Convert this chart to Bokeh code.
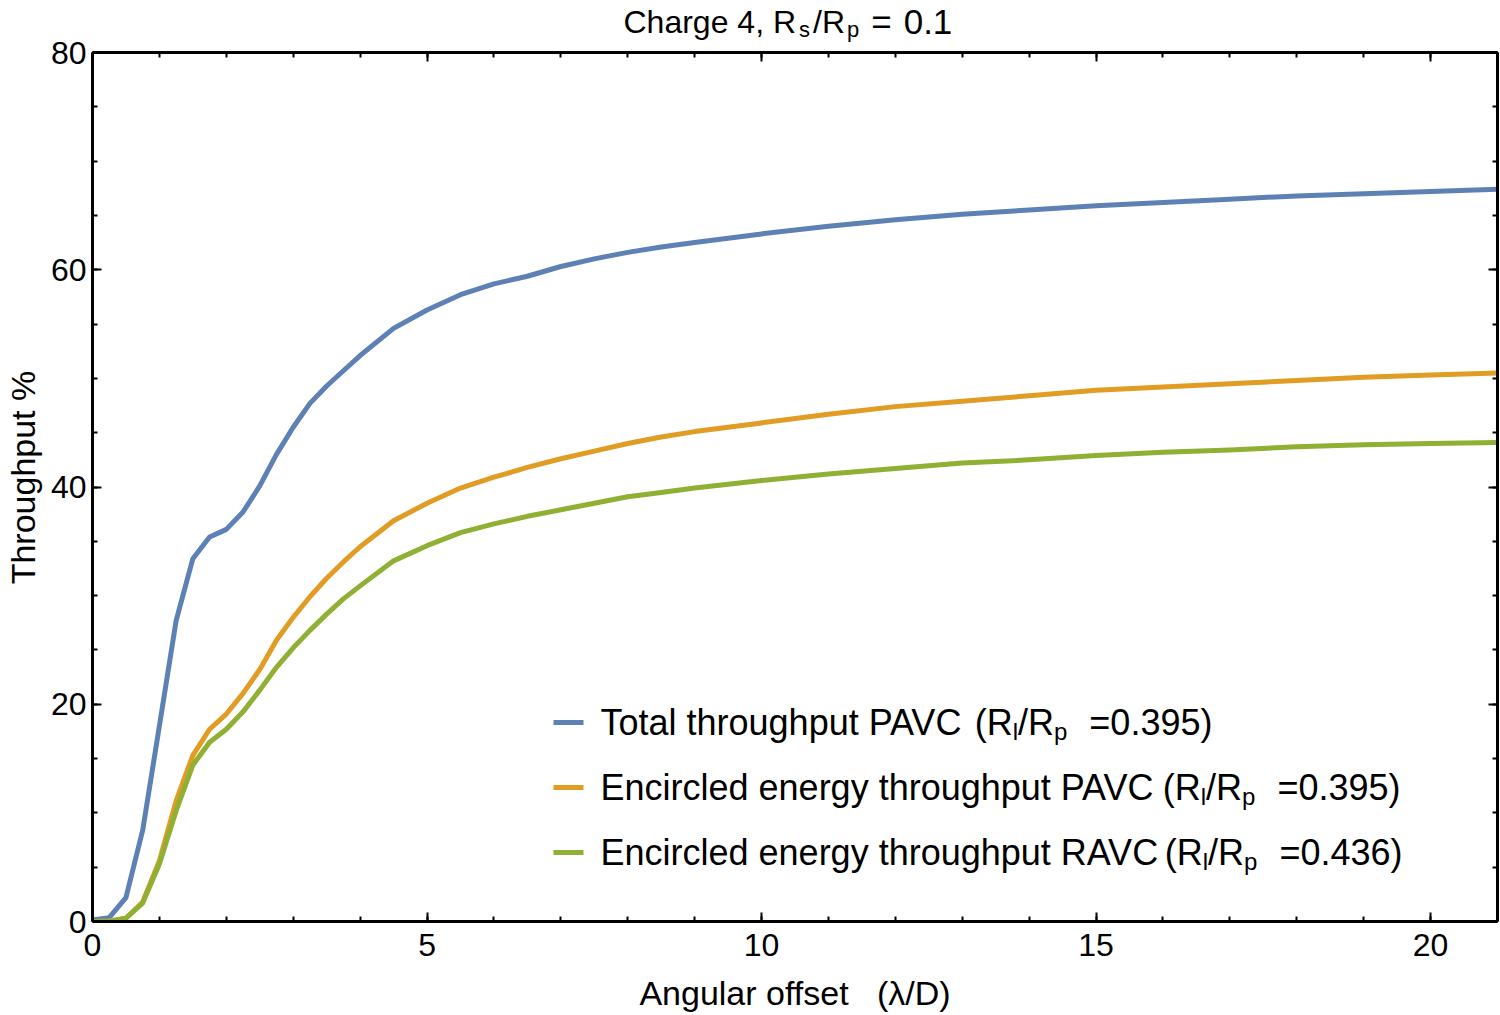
from bokeh.plotting import figure
from bokeh.layouts import column
from bokeh.models import (LinearAxis, SingleIntervalTicker, Label, BoxAnnotation,
                          Range1d, CustomJSTickFormatter)
from bokeh.core.properties import value
from bokeh.embed import file_html
from bokeh.resources import INLINE

# Angular offset (lambda/D)
offset = [0, 0.25, 0.5, 0.75, 1.0, 1.25, 1.5, 1.75, 2.0, 2.25, 2.5, 2.75, 3.0,
          3.25, 3.5, 3.75, 4.0, 4.5, 5.0, 5.5, 6.0, 6.5, 7.0, 7.5, 8.0, 8.5,
          9.0, 10, 11, 12, 13, 14, 15, 16, 17, 18, 19, 20, 21]

# Throughput in percent
total_pavc = [0.15, 0.35, 2.2, 8.4, 18.0, 27.7, 33.4, 35.4, 36.1, 37.7, 40.1,
              43.0, 45.5, 47.7, 49.3, 50.7, 52.1, 54.6, 56.3, 57.7, 58.7, 59.4,
              60.3, 61.0, 61.6, 62.1, 62.5, 63.3, 64.0, 64.6, 65.1, 65.5, 65.9,
              66.2, 66.5, 66.8, 67.0, 67.2, 67.4]
ee_pavc = [0.0, 0.05, 0.3, 1.8, 5.6, 11.1, 15.3, 17.7, 19.1, 21.0, 23.2, 25.9,
           28.0, 29.9, 31.6, 33.1, 34.5, 36.9, 38.5, 39.9, 40.9, 41.8, 42.6,
           43.3, 44.0, 44.6, 45.1, 45.9, 46.7, 47.4, 47.9, 48.4, 48.9, 49.2,
           49.5, 49.8, 50.1, 50.3, 50.5]
ee_ravc = [0.0, 0.0, 0.3, 1.7, 5.3, 10.2, 14.4, 16.5, 17.7, 19.3, 21.3, 23.4,
           25.2, 26.8, 28.3, 29.7, 30.9, 33.2, 34.6, 35.8, 36.6, 37.3, 37.9,
           38.5, 39.1, 39.5, 39.9, 40.6, 41.2, 41.7, 42.2, 42.5, 42.9, 43.2,
           43.4, 43.7, 43.9, 44.0, 44.1]

series_names = ["Total throughput PAVC", "Encircled energy throughput PAVC",
                "Encircled energy throughput RAVC"]
series_ratio = ["0.395", "0.395", "0.436"]
series_data = [total_pavc, ee_pavc, ee_ravc]
colors = ["#5E81B5", "#E19C24", "#8FB032"]

FONT = "Liberation Sans"
NBSP = "\u00a0"

# Arial / Liberation Sans advance widths (per 1000 em)
_W = {" ": 278, "%": 889, "(": 333, ")": 333, ",": 278, ".": 278, "/": 278,
      "=": 584, "A": 667, "C": 722, "D": 722, "E": 667, "P": 667, "R": 722,
      "T": 611, "V": 667, "a": 556, "c": 500, "d": 556, "e": 556, "g": 556,
      "h": 556, "i": 222, "l": 222, "n": 556, "o": 556, "p": 556, "r": 333,
      "s": 500, "t": 278, "u": 556, "y": 500}


def text_width(s, size):
    return sum(_W.get(ch, 556) for ch in s) * size / 1000.0


PAGE_W, PAGE_H = 1500, 1015
TITLE_H = 52          # title strip height (= top of the plot frame)
OVERLAP = 22          # plot canvas slides up under the title strip
BORDER_L, BORDER_R = 92, 3

# ---- title strip: Charge 4, R_s/R_p = 0.1 (x measured in page pixels) ----
head = figure(width=PAGE_W, height=TITLE_H,
              x_range=Range1d(BORDER_L, PAGE_W - BORDER_R),
              y_range=Range1d(0, TITLE_H), output_backend="svg",
              toolbar_location=None, min_border_left=BORDER_L,
              min_border_right=BORDER_R, min_border_top=0, min_border_bottom=0)
head.axis.visible = False
head.grid.visible = False
head.outline_line_color = None

T_SIZE, T_SUB, T_NUM = 32, 22, 35
title_pieces = [("Charge 4, R", T_SIZE, 0, 0), ("s", T_SUB, -8, 3),
                ("/R", T_SIZE, 0, 3), ("p", T_SUB, -8, 2),
                ("=", T_NUM, 0, 12), ("0.1", T_NUM, 0, 12)]
tx = 623
t_mid = TITLE_H - 21
xs, ys, txts, sizes = [], [], [], []
for txt, size, dy, gap in title_pieces:
    tx += gap
    xs.append(tx)
    ys.append(t_mid + dy)
    txts.append(txt)
    sizes.append(f"{size}px")
    tx += text_width(txt, size)
head.text(x=xs, y=ys, text=txts, text_font=value(FONT), text_font_size=sizes,
          text_color="black", text_baseline="middle", text_align="left")

# ---- main plot ----
p = figure(width=PAGE_W, height=PAGE_H - TITLE_H + OVERLAP, x_range=Range1d(0, 21),
           y_range=Range1d(0, 80), output_backend="svg", toolbar_location=None,
           min_border_left=BORDER_L, min_border_right=BORDER_R,
           min_border_top=OVERLAP, min_border_bottom=94,
           x_axis_label=f"Angular offset{NBSP}{NBSP}{NBSP}(λ/D)",
           y_axis_label=f"{NBSP}{NBSP}Throughput %")
p.margin = (-OVERLAP, 0, 0, 0)
p.grid.visible = False
p.outline_line_color = None
p.background_fill_color = "white"
p.border_fill_color = None

x_ticker = SingleIntervalTicker(interval=5, num_minor_ticks=5)
y_ticker = SingleIntervalTicker(interval=20, num_minor_ticks=4)


def style_axis(ax, labels=True):
    ax.axis_line_color = "black"
    ax.axis_line_width = 3
    ax.major_tick_in = 9
    ax.major_tick_out = 0
    ax.minor_tick_in = 5
    ax.minor_tick_out = 0
    ax.major_tick_line_width = 2
    ax.minor_tick_line_width = 2
    ax.major_tick_line_color = "black"
    ax.minor_tick_line_color = "black"
    ax.major_label_text_font = FONT
    ax.major_label_text_color = "black"
    ax.axis_label_text_font = FONT
    ax.axis_label_text_font_style = "normal"
    ax.axis_label_text_color = "black"
    if labels:
        ax.major_label_text_font_size = "32px"
        ax.axis_label_text_font_size = "34px"
    else:
        ax.formatter = CustomJSTickFormatter(code="return ''")
        ax.major_label_text_font_size = "1px"
        ax.major_label_text_color = None
        ax.major_label_standoff = 0
        ax.axis_label = None


p.xaxis.ticker = x_ticker
p.yaxis.ticker = y_ticker
style_axis(p.xaxis[0])
style_axis(p.yaxis[0])
p.xaxis.major_label_standoff = 12
p.xaxis.axis_label_standoff = 15
p.yaxis.major_label_standoff = 6
p.yaxis.axis_label_standoff = 6

top = LinearAxis(ticker=x_ticker)
right = LinearAxis(ticker=y_ticker)
style_axis(top, labels=False)
style_axis(right, labels=False)
p.add_layout(top, "above")
p.add_layout(right, "right")

for vals, c in zip(series_data, colors):
    p.line(offset, vals, line_color=c, line_width=5, line_join="round")

# Legend, built from pieces so that the subscripts can be set
LEG_SIZE, LEG_SUB = 36, 24
leg_x0 = 508
for i, (name, ratio, c) in enumerate(zip(series_names, series_ratio, colors)):
    yc = 199 - 65 * i
    p.add_layout(BoxAnnotation(left=461, right=491, bottom=yc - 2.5, top=yc + 2.5,
                               left_units="screen", right_units="screen",
                               bottom_units="screen", top_units="screen",
                               fill_color=c, fill_alpha=1, line_color=None,
                               level="overlay"))
    pieces = [(name, LEG_SIZE, 0, 0), ("(R", LEG_SIZE, 0, 4), ("l", LEG_SUB, -9, 0),
              ("/R", LEG_SIZE, 0, 0), ("p", LEG_SUB, -9, 0),
              ("=" + ratio + ")", LEG_SIZE, 0, 22)]
    x = leg_x0
    for txt, size, dy, gap in pieces:
        x += gap
        p.add_layout(Label(x=x, y=yc + dy, x_units="screen", y_units="screen",
                           text=txt, text_font=FONT, text_font_size=f"{size}px",
                           text_color="black", text_baseline="middle",
                           text_align="left"))
        x += text_width(txt, size)

layout = column(head, p, spacing=0)
open("out.html", "w").write(file_html(layout, INLINE))
